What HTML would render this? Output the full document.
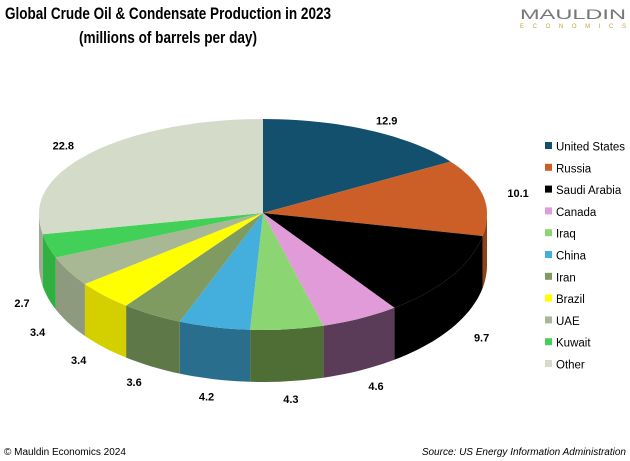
<!DOCTYPE html>
<html><head><meta charset="utf-8"><style>
body{margin:0;background:#fff;}
svg{display:block;font-family:"Liberation Sans",sans-serif;}
</style></head><body>
<svg id="c" width="630" height="461">
<text x="168" y="19" font-size="17" font-weight="bold" text-anchor="middle" textLength="326" lengthAdjust="spacingAndGlyphs">Global Crude Oil &amp; Condensate Production in 2023</text>
<text x="168" y="43" font-size="17" font-weight="bold" text-anchor="middle" textLength="178" lengthAdjust="spacingAndGlyphs">(millions of barrels per day)</text>
<text x="520" y="19" font-size="14" fill="#777" textLength="106" lengthAdjust="spacingAndGlyphs">MAULDIN</text>
<text x="520" y="28" font-size="6" fill="#c8a040" textLength="106" lengthAdjust="spacing">ECONOMICS</text>
<text x="4" y="455" font-size="10">© Mauldin Economics 2024</text>
<text x="626" y="455" font-size="10" font-style="italic" text-anchor="end">Source: US Energy Information Administration</text>
<g id="pie"></g>
<g id="legend"></g>
</svg>
<script>
const categories=["United States","Russia","Saudi Arabia","Canada","Iraq","China","Iran","Brazil","UAE","Kuwait","Other"];
const values=[12.9,10.1,9.7,4.6,4.3,4.2,3.6,3.4,3.4,2.7,22.8];
const labels=["12.9","10.1","9.7","4.6","4.3","4.2","3.6","3.4","3.4","2.7","22.8"];
const colors=["#13506e","#cc5f27","#000000","#e09bd8","#8bd672","#44aedc","#7f9b62","#ffff00","#a8b894","#43d058","#d4dbc8"];
const sideColors=["#0e3a50","#8e4219","#000000","#5a3c58","#4e6e35","#2a6e8e","#5f7848","#d4d000","#8e9a7e","#2fb040","#a0a896"];
const NS="http://www.w3.org/2000/svg";
const cx=263,cy=213,rx=224,ryTop=94,ryBot=117,depth=52;
const total=values.reduce((a,b)=>a+b,0);
const pt=(a,dy=0)=>{const t=a*Math.PI/180;const c=Math.cos(t);return [cx+rx*Math.sin(t),cy-(c>0?ryTop:ryBot)*c+dy];};
const pie=document.getElementById('pie');
function arcPath(a1,a2,dy,rev){
  let s="";const n=Math.max(2,Math.ceil(Math.abs(a2-a1)/2));
  for(let i=0;i<=n;i++){const a=rev?a2+(a1-a2)*i/n:a1+(a2-a1)*i/n;const p=pt(a,dy);s+=(i==0&&!rev?"M":"L")+p[0].toFixed(1)+","+p[1].toFixed(1);}
  return s;
}
let angs=[],acc=0;
values.forEach(v=>{const a1=acc/total*360;acc+=v;angs.push([a1,acc/total*360]);});
angs.forEach(([a1,a2],i)=>{
  const s=Math.max(a1,90),e=Math.min(a2,270);
  if(e<=s)return;
  const p=document.createElementNS(NS,'path');
  p.setAttribute('d',arcPath(s,e,0,false)+arcPath(s,e,depth,true)+"Z");
  p.setAttribute('fill',sideColors[i]);
  
  
  pie.appendChild(p);
});
angs.forEach(([a1,a2],i)=>{
  const p=document.createElementNS(NS,'path');
  p.setAttribute('d',"M"+cx+","+cy+arcPath(a1,a2,0,false).replace(/^M/,"L")+"Z");
  p.setAttribute('fill',colors[i]);
  
  
  pie.appendChild(p);
  const m=(a1+a2)/2,t=m*Math.PI/180;
  const c=Math.cos(t);
  let lx=cx+rx*1.16*Math.sin(t);
  lx=Math.max(22,lx);
  const ly=cy-(c>0?ryTop*1.12:ryBot*1.15)*c+(c<0?depth:0)+4;
  const tx=document.createElementNS(NS,'text');
  tx.setAttribute('x',lx.toFixed(1));tx.setAttribute('y',ly.toFixed(1));
  tx.setAttribute('font-size','11');tx.setAttribute('font-weight','bold');tx.setAttribute('text-anchor','middle');
  tx.textContent=labels[i];
  
  
  pie.appendChild(tx);
});
const lg=document.getElementById('legend');
categories.forEach((c,i)=>{
  const y=147+i*21.8;
  const r=document.createElementNS(NS,'rect');
  r.setAttribute('x',545);r.setAttribute('y',y-5);r.setAttribute('width',7);r.setAttribute('height',7);r.setAttribute('fill',colors[i]);
  
  
  lg.appendChild(r);
  const t=document.createElementNS(NS,'text');
  t.setAttribute('x',556);t.setAttribute('y',y+3.5);t.setAttribute('font-size','11.5');t.textContent=c;
  
  
  lg.appendChild(t);
});
</script>
</body></html>
